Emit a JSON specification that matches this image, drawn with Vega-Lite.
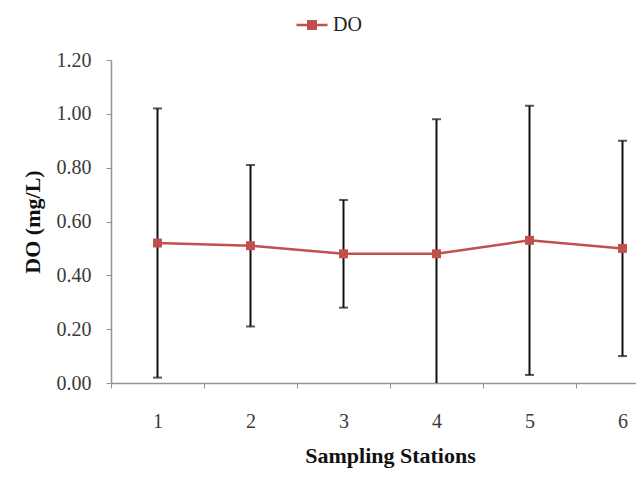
{
  "$schema": "https://vega.github.io/schema/vega-lite/v6.json",
  "autosize": {"type": "none"},
  "width": 525,
  "height": 323,
  "padding": {"left": 111, "top": 60, "right": 0, "bottom": 94},
  "background": "white",
  "config": {
    "view": {"stroke": null},
    "font": "Liberation Serif",
    "axis": {"grid": false, "domainColor": "#9a9090", "tickColor": "#9a9090", "labelFont": "Liberation Serif", "titleFont": "Liberation Serif", "labelColor": "#3a3a3a", "titleColor": "#111111", "labelFontSize": 20, "titleFontSize": 20, "titleFontWeight": "bold", "tickSize": 5, "domainWidth": 1.5}
  },
  "data": {"values": [
    {"station": "1", "mean": 0.52, "lo": 0.02, "hi": 1.02},
    {"station": "2", "mean": 0.51, "lo": 0.21, "hi": 0.81},
    {"station": "3", "mean": 0.48, "lo": 0.28, "hi": 0.68},
    {"station": "4", "mean": 0.48, "lo": -0.02, "hi": 0.98},
    {"station": "5", "mean": 0.53, "lo": 0.03, "hi": 1.03},
    {"station": "6", "mean": 0.50, "lo": 0.10, "hi": 0.90}
  ]},
  "encoding": {
    "x": {"field": "station", "type": "ordinal", "scale": {"range": [0, 558], "paddingInner": 0, "paddingOuter": 0},
      "axis": {"title": "Sampling Stations", "labelAngle": 0, "tickBand": "extent", "labelPadding": 23, "titlePadding": 14, "titleFontSize": 22}}
  },
  "layer": [
    {
      "mark": {"type": "rule", "color": "#111111", "strokeWidth": 2, "clip": true},
      "encoding": {
        "y": {"field": "lo", "type": "quantitative", "scale": {"domain": [0, 1.2]},
          "axis": {"title": "DO (mg/L)", "titleFontSize": 22, "values": [0, 0.2, 0.4, 0.6, 0.8, 1.0, 1.2], "format": ".2f", "labelPadding": 15, "titlePadding": 12}},
        "y2": {"field": "hi"}
      }
    },
    {
      "mark": {"type": "tick", "color": "#111111", "thickness": 2, "size": 9, "clip": true},
      "encoding": {"y": {"field": "hi", "type": "quantitative"}}
    },
    {
      "mark": {"type": "tick", "color": "#111111", "thickness": 2, "size": 9, "clip": true},
      "encoding": {"y": {"field": "lo", "type": "quantitative"}}
    },
    {
      "mark": {"type": "line", "strokeWidth": 2.5, "point": {"shape": "square", "size": 80, "filled": true, "opacity": 1}},
      "encoding": {
        "y": {"field": "mean", "type": "quantitative"},
        "color": {"datum": "DO", "type": "nominal", "scale": {"range": ["#c0504d"]},
          "legend": {"title": null, "orient": "none", "legendX": 184, "legendY": -52, "labelFont": "Liberation Serif", "labelFontSize": 20, "labelColor": "#222222",
            "symbolType": "M-1,0L1,0M-0.24,-0.24L0.24,-0.24L0.24,0.24L-0.24,0.24Z", "symbolSize": 960, "symbolStrokeWidth": 2.5, "symbolFillColor": "#c0504d", "symbolStrokeColor": "#c0504d", "labelOffset": 4}}
      }
    }
  ]
}
